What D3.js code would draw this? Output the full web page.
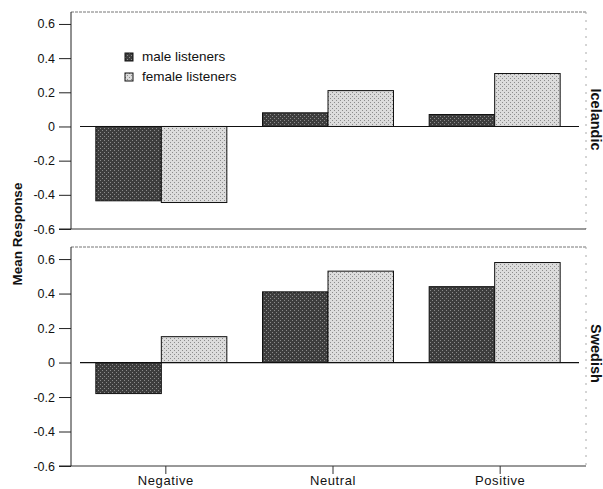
<!DOCTYPE html>
<html>
<head>
<meta charset="utf-8">
<script src="https://cdn.jsdelivr.net/npm/d3@7"></script>
<style>
  html, body { margin: 0; padding: 0; background: #fff; }
  svg text { font-family: "Liberation Sans", Arial, Helvetica, sans-serif; fill: #111; }
</style>
</head>
<body>
<svg id="chart" width="603" height="489"></svg>
<script>
// Mean listener response by emotion category, split by listener language.
const categories = ["Negative", "Neutral", "Positive"];
const groups = ["male listeners", "female listeners"];
const icelandicMale = [-0.435, 0.08, 0.07];
const icelandicFemale = [-0.445, 0.21, 0.31];
const swedishMale = [-0.18, 0.41, 0.44];
const swedishFemale = [0.15, 0.53, 0.58];
const yTicks = [-0.6, -0.4, -0.2, 0, 0.2, 0.4, 0.6];
const yTickLabels = ["-0.6", "-0.4", "-0.2", "0", "0.2", "0.4", "0.6"];
const panelNames = ["Icelandic", "Swedish"];

const svg = d3.select("#chart");
const defs = svg.append("defs");

// Halftone-like textures for the two bar fills
function stipple(id, base, dot, step) {
  const p = defs.append("pattern").attr("id", id)
    .attr("width", step).attr("height", step)
    .attr("patternUnits", "userSpaceOnUse");
  p.append("rect").attr("width", step).attr("height", step).attr("fill", base);
  p.append("rect").attr("x", 0).attr("y", 0).attr("width", 1).attr("height", 1).attr("fill", dot);
  p.append("rect").attr("x", 2).attr("y", 2).attr("width", 1).attr("height", 1).attr("fill", dot);
}
stipple("maleFill", "#3d3d3d", "#8a8a8a", 4);
stipple("femaleFill", "#dcdcdc", "#8c8c8c", 4);
const fills = ["url(#maleFill)", "url(#femaleFill)"];

const left = 71, right = 586;
const x0 = d3.scaleBand().domain(categories).range([78, 578])
  .paddingInner(0.214).paddingOuter(0.107);
const x1 = d3.scaleBand().domain(groups).range([0, x0.bandwidth()]);

const panels = [
  { name: panelNames[0], top: 12, bottom: 229, male: icelandicMale, female: icelandicFemale, labelDy: -1 },
  { name: panelNames[1], top: 247, bottom: 466, male: swedishMale, female: swedishFemale, labelDy: -3 }
];

const labelFont = '"Liberation Sans", Arial, sans-serif';

panels.forEach((p, pi) => {
  const y = d3.scaleLinear().domain([-0.6, 0.67]).range([p.bottom, p.top]);
  const g = svg.append("g");

  // frame: faint dotted top/right, solid left/bottom
  g.append("line").attr("x1", left).attr("x2", right).attr("y1", p.top).attr("y2", p.top)
    .attr("stroke", "#777").attr("stroke-dasharray", "3,1");
  g.append("line").attr("x1", right).attr("x2", right).attr("y1", p.top).attr("y2", p.bottom)
    .attr("stroke", "#aaa").attr("stroke-dasharray", "2,6");
  g.append("line").attr("x1", left).attr("x2", right).attr("y1", p.bottom).attr("y2", p.bottom)
    .attr("stroke", "#333");

  // y axis
  const yAxis = d3.axisLeft(y).tickValues(yTicks).tickSize(12).tickPadding(4)
    .tickFormat((d, i) => yTickLabels[i]);
  const ax = g.append("g").attr("transform", `translate(${left},0)`).call(yAxis);
  ax.select(".domain").attr("stroke", "#222").attr("d", `M-12,${p.bottom}H0V${p.top}`);
  ax.selectAll(".tick line").attr("stroke", "#222");
  ax.selectAll(".tick text").attr("font-size", 12.5).attr("fill", "#111")
    .style("font-family", labelFont);

  // bars
  const rows = categories.map((c, i) => ({ c, vals: [p.male[i], p.female[i]] }));
  rows.forEach(r => {
    r.vals.forEach((v, gi) => {
      g.append("rect")
        .attr("x", x0(r.c) + x1(groups[gi]))
        .attr("width", x1.bandwidth())
        .attr("y", y(Math.max(0, v)))
        .attr("height", Math.abs(y(v) - y(0)))
        .attr("fill", fills[gi])
        .attr("stroke", "#111").attr("stroke-width", 1);
    });
  });

  // zero line
  g.append("line").attr("x1", 80).attr("x2", 579).attr("y1", y(0)).attr("y2", y(0))
    .attr("stroke", "#111").attr("stroke-width", 1.2);

  // panel label, reading top to bottom
  const cy = (p.top + p.bottom) / 2 + p.labelDy;
  g.append("text").attr("transform", `translate(${590},${cy}) rotate(90)`)
    .attr("text-anchor", "middle").attr("dy", "-0.05em")
    .attr("font-size", 14.5).attr("font-weight", "bold").text(p.name);

  // category axis on the lower panel
  if (pi === 1) {
    const xAxis = d3.axisBottom(d3.scalePoint().domain(categories)
      .range([x0(categories[0]) + x0.bandwidth() / 2 + 4, x0(categories[2]) + x0.bandwidth() / 2 + 5]))
      .tickSize(8).tickPadding(2);
    const xa = g.append("g").attr("transform", `translate(0,${p.bottom})`).call(xAxis);
    xa.select(".domain").remove();
    xa.selectAll(".tick line").attr("stroke", "#333");
    xa.selectAll(".tick text").attr("font-size", 13).attr("fill", "#111")
      .attr("letter-spacing", 0.6)
      .style("font-family", labelFont);
  }
});

// legend in the upper panel
const legend = svg.append("g").attr("transform", "translate(125,53)");
groups.forEach((name, i) => {
  const row = legend.append("g").attr("transform", `translate(0,${i * 20})`);
  row.append("rect").attr("width", 8).attr("height", 8)
    .attr("fill", fills[i]).attr("stroke", "#111");
  row.append("text").attr("x", 17).attr("y", 8).attr("font-size", 13.5).text(name);
});

// y axis title
svg.append("text").attr("transform", "translate(22,234) rotate(-90)")
  .attr("text-anchor", "middle").attr("font-size", 13.5).attr("font-weight", "bold")
  .text("Mean Response");
</script>
</body>
</html>
